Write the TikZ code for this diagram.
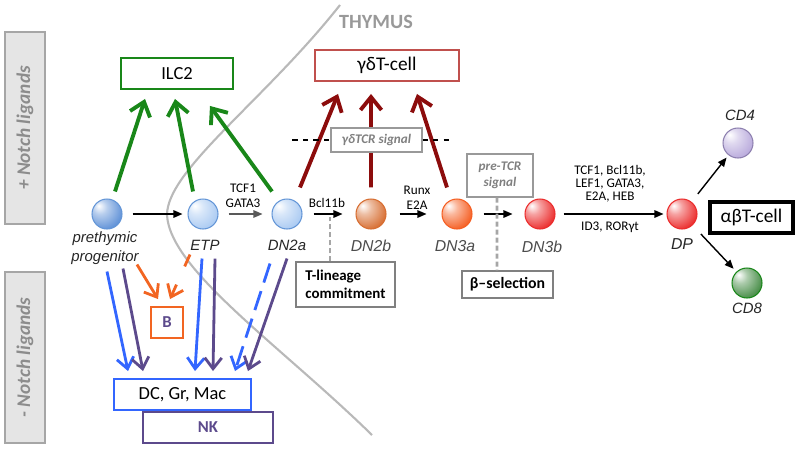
\documentclass[tikz,border=0pt]{standalone}
\usepackage{fontspec}
\setmainfont{Carlito}
\newfontfamily\cellfont{Liberation Sans}
\usepackage{xcolor}
\usetikzlibrary{arrows.meta}

\definecolor{ilcgreen}{RGB}{25,135,25}
\definecolor{gdred}{RGB}{140,12,12}
\definecolor{boxred}{RGB}{192,80,77}
\definecolor{dcblue}{RGB}{51,102,255}
\definecolor{nkpurple}{RGB}{92,74,140}
\definecolor{borange}{RGB}{242,101,34}
\definecolor{thygray}{RGB}{185,185,185}
\definecolor{bluedk}{RGB}{95,145,215}
\definecolor{bluelt}{RGB}{170,202,242}
\definecolor{blueln}{RGB}{100,150,215}
\definecolor{dnbcol}{RGB}{215,110,50}
\definecolor{dnacol}{RGB}{245,95,35}
\definecolor{dn3col}{RGB}{235,45,45}
\definecolor{cdfour}{RGB}{185,170,220}
\definecolor{cdeight}{RGB}{70,140,70}
\colorlet{cellc}{bluedk}
\pgfdeclareradialshading[cellc]{cellball}{\pgfpoint{-14bp}{14bp}}{color(0bp)=(white);color(12bp)=(cellc!45!white);color(34bp)=(cellc);color(52bp)=(cellc!80!black);color(70bp)=(cellc!70!black)}

\begin{document}
\begin{tikzpicture}[x=0.02cm,y=-0.02cm,
  cell/.style 2 args={circle,minimum size=6mm,inner sep=0pt,draw=#1,line width=0.6pt,/utils/exec=\colorlet{cellc}{#2},shade,shading=cellball},
  lab/.style={font=\cellfont\itshape\fontsize{8.5}{10.8}\selectfont,text=black!85,align=center},
  tf/.style={font=\fontsize{7.5}{8.5}\selectfont,align=center,inner sep=0pt},
  fate/.style={draw=#1,line width=1.1pt,minimum height=6.2mm,inner sep=0pt,fill=white,font=\fontsize{10.5}{12}\selectfont},
  sigbox/.style={draw=black!40,line width=0.7pt,fill=white,inner sep=0pt,align=center,font=\bfseries\itshape\fontsize{7.5}{9}\selectfont,text=black!50},
  stagebox/.style={draw=black!50,line width=0.7pt,fill=white,inner sep=0pt,align=left,font=\bfseries\fontsize{8.5}{10.5}\selectfont},
  notch/.style={draw=black!35,line width=1.2pt,fill=black!10,rotate=90,minimum height=8mm,inner sep=0pt,font=\bfseries\itshape\fontsize{11}{13}\selectfont,text=black!45},
  big/.style={line width=2.2pt,-{Straight Barb[length=2.6mm,width=4.2mm]}},
  down/.style={line width=1.6pt,-{Straight Barb[length=2.2mm,width=3.4mm]}},
  flow/.style={line width=0.8pt,-{Triangle[length=1.8mm,width=1.5mm]}},
  gdash/.style={draw=black!35,line width=1.5pt,dash pattern=on 1mm off 0.6mm}]
\useasboundingbox (0,0) rectangle (800,450);

	% thymus border
	\draw[thygray,line width=1.2pt] (340,5) .. controls (265,100) and (167,170) .. (167,215) .. controls (170,270) and (280,345) .. (372,435);
	\node[font=\bfseries\fontsize{11.5}{13}\selectfont,text=black!40] at (376,22) (thy) {THYMUS};

	\node[notch,minimum width=38.4mm] at (25,128) (plus) {+ Notch ligands};
	\node[notch,minimum width=34.2mm] at (25,357.5) (minus) {- Notch ligands};

	\node[fate=ilcgreen,minimum width=22.4mm] at (177,73.5) (ilc) {ILC2};
	\node[fate=boxred,minimum width=28.8mm,font=\fontsize{11}{12}\selectfont] at (387,65.5) (gdt) {γδT-cell};
	\node[fate=dcblue,minimum width=27.4mm] at (182.5,394.5) (dc) {DC, Gr, Mac};
	\node[fate=nkpurple,minimum width=26mm,text=nkpurple,font=\bfseries\fontsize{9.5}{11}\selectfont] at (208,427.5) (nk) {NK};
	\node[fate=borange,minimum width=6.4mm,text=nkpurple,font=\bfseries\fontsize{9.5}{11}\selectfont] at (167,322.5) (b) {B};
	\node[fate=black,line width=1.8pt,minimum width=16.6mm,font=\fontsize{11}{12}\selectfont] at (751.5,217.5) (ab) {αβT-cell};

	\node[cell={blueln}{bluedk}] at (107,214) (pre) {};
	\node[cell={blueln}{bluelt}] at (203,214) (etp) {};
	\node[cell={blueln}{bluelt}] at (287,214) (dna) {};
	\node[cell={dnbcol}{dnbcol}] at (371,214) (dnb) {};
	\node[cell={dnacol}{dnacol}] at (457,214) (dn3a) {};
	\node[cell={dn3col}{dn3col}] at (540,214) (dn3b) {};
	\node[cell={dn3col}{dn3col}] at (682,214) (dp) {};
	\node[cell={nkpurple!70}{cdfour}] at (738,143) (cd4) {};
	\node[cell={ilcgreen}{cdeight}] at (747,283) (cd8) {};

	\node[lab] at (105,248) (pret) {prethymic\\progenitor};
	\node[lab] at (205,245) (etpt) {ETP};
	\node[lab] at (287,245) (dnat) {DN2a};
	\node[lab,text=black!70,font=\cellfont\itshape\fontsize{9}{11}\selectfont] at (371,246) (dnbt) {DN2b};
	\node[lab,text=black!70,font=\cellfont\itshape\fontsize{9}{11}\selectfont] at (455,246) (dn3at) {DN3a};
	\node[lab,text=black!70,font=\cellfont\itshape\fontsize{9}{11}\selectfont] at (542,247) (dn3bt) {DN3b};
	\node[lab,font=\cellfont\itshape\fontsize{9}{11}\selectfont] at (682,244) (dpt) {DP};
	\node[lab] at (740,115) (cd4t) {CD4};
	\node[lab] at (747,308) (cd8t) {CD8};

	\node[tf] at (243,196) (tcf) {TCF1\\GATA3};
	\node[tf] at (327,203) (bcl) {Bcl11b};
	\node[tf] at (417,198) (runx) {Runx\\E2A};
	\node[tf,font=\fontsize{7.5}{7.5}\selectfont] at (610,184) (tfs) {TCF1, Bcl11b,\\LEF1, GATA3,\\E2A, HEB};
	\node[tf] at (610,227) (idr) {ID3, RORγt};

	% ILC2 branch
	\draw[big,ilcgreen] ([xshift=1.6mm,yshift=1.4mm]pre.north) -- ([xshift=-6.4mm,yshift=-1.8mm]ilc.south);
	\draw[big,ilcgreen] ([xshift=-2mm,yshift=1.4mm]etp.north) -- ([xshift=-0.4mm,yshift=-1.8mm]ilc.south);
	\draw[big,ilcgreen] ([xshift=-3mm,yshift=1.4mm]dna.north) -- ([xshift=6.6mm,yshift=-3.2mm]ilc.south);

	% gd branch
	\draw[big,gdred] ([xshift=2.6mm,yshift=2.2mm]dna.north) -- ([xshift=-9.8mm,yshift=-2.4mm]gdt.south);
	\draw[big,gdred] ([yshift=2.2mm]dnb.north) -- ([xshift=-3.2mm,yshift=-2.4mm]gdt.south);
	\draw[big,gdred] ([xshift=-2mm,yshift=2.2mm]dn3a.north) -- ([xshift=6mm,yshift=-2.4mm]gdt.south);
	\node[sigbox,minimum width=18.2mm,minimum height=4.8mm] at (376.5,140) (gdtcr) {γδTCR signal};
	\draw[dashed,line width=0.6pt] ([xshift=-7.6mm]gdtcr.west) -- (gdtcr.west);
	\draw[dashed,line width=0.6pt] (gdtcr.east) -- ([xshift=6.2mm]gdtcr.east);

	% main line
	\draw[flow] ([xshift=2mm]pre.east) -- ([xshift=-1mm]etp.west);
	\draw[flow,black!65,line width=0.6pt] ([xshift=2mm]etp.east) -- ([xshift=-1.8mm]dna.west);
	\draw[flow] ([xshift=2.2mm]dna.east) -- ([xshift=-2.6mm]dnb.west);
	\draw[flow] ([xshift=2.6mm]dnb.east) -- ([xshift=-3mm]dn3a.west);
	\draw[flow] ([xshift=2.2mm]dn3a.east) -- ([xshift=-2.4mm]dn3b.west);
	\draw[flow] ([xshift=1.6mm]dn3b.east) -- ([xshift=-0.6mm]dp.west);
	\draw[flow,shorten <=2mm,shorten >=0.6mm] (dp) -- (cd4);
	\draw[flow,shorten <=2.4mm,shorten >=0.8mm] (dp) -- (cd8);

	% checkpoints
	\node[stagebox,minimum width=19.8mm,minimum height=9mm] at (345.5,284.5) (tlin) {T-lineage\\commitment};
	\node[sigbox,minimum width=13.2mm,minimum height=8.6mm] at (500,175.5) (ptcr) {pre-TCR\\signal};
	\node[stagebox,minimum width=18.2mm,minimum height=5.4mm,font=\bfseries\fontsize{9}{11}\selectfont] at (507.5,284.5) (beta) {β–selection};
	\draw[gdash] ([xshift=-3.1mm]tlin.north) -- ([xshift=-3.1mm,yshift=8.8mm]tlin.north);
	\draw[gdash] ([xshift=-0.6mm]ptcr.south) -- ([xshift=-2.1mm]beta.north);

	% without Notch
	\draw[down,borange] ([xshift=6mm,yshift=-7mm]pre.south) -- ([xshift=-1.8mm,yshift=1.4mm]b.north);
	\draw[down,borange,dash pattern=on 2.6mm off 4mm] ([xshift=-2.6mm,yshift=-5mm]etp.south) -- ([xshift=0.6mm,yshift=1.4mm]b.north);
	\draw[down,dcblue] ([yshift=-8.4mm]pre.south) -- ([xshift=-10.9mm,yshift=1.4mm]dc.north);
	\draw[down,nkpurple] ([xshift=3.2mm,yshift=-7.8mm]pre.south) -- ([xshift=-13mm,yshift=8mm]nk.north);
	\draw[down,dcblue] ([xshift=-0.2mm,yshift=-5.8mm]etp.south) -- ([xshift=2.5mm,yshift=1.4mm]dc.north);
	\draw[down,nkpurple] ([xshift=2.4mm,yshift=-5.8mm]etp.south) -- ([xshift=1mm,yshift=8mm]nk.north);
	\draw[down,dcblue,dash pattern=on 4mm off 1.8mm] ([xshift=-3.4mm,yshift=-6.8mm]dna.south) -- ([xshift=10.5mm,yshift=1.4mm]dc.north);
	\draw[down,nkpurple] ([yshift=-5.8mm]dna.south) -- ([xshift=8mm,yshift=8mm]nk.north);
\end{tikzpicture}
\end{document}
